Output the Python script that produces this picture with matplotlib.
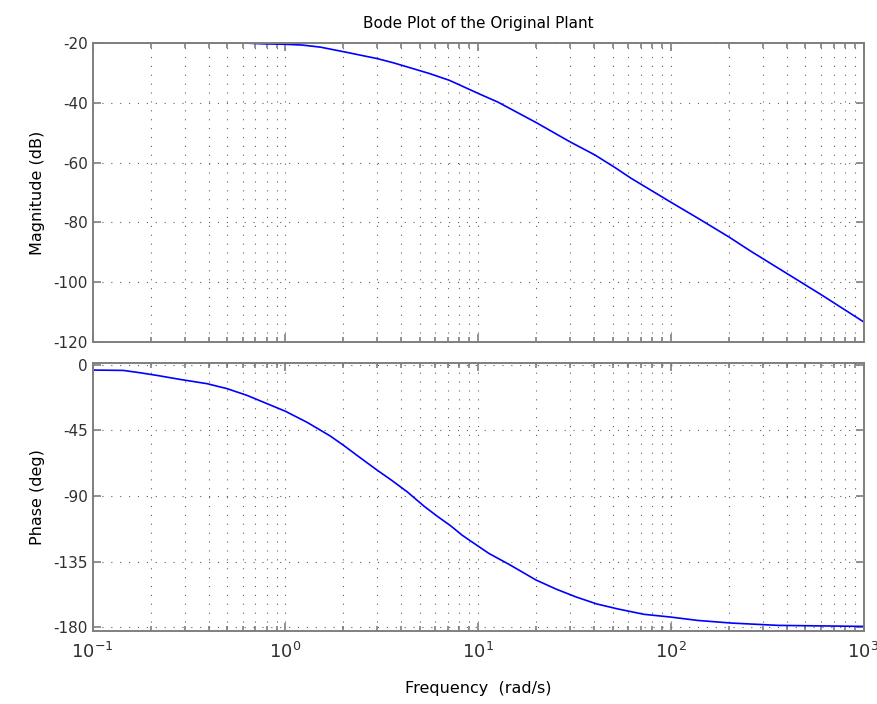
import numpy as np
import matplotlib.pyplot as plt
from matplotlib.ticker import LogLocator, NullFormatter

# values
mag_freq = [0.1, 0.3, 0.6, 0.774, 1.0, 1.22, 1.52, 2.03, 2.98, 3.62, 4.39, 5.58,
            7.10, 10.2, 12.7, 20.0, 30.1, 40.3, 51.2, 62.1, 100.5, 141, 202, 257,
            304, 406, 612, 1000]
mag_db = [-20.0, -20.0, -20.0, -20.3, -20.45, -20.7, -21.4, -23.0, -25.2, -26.6,
          -28.2, -30.2, -32.5, -37.1, -39.8, -46.6, -53.1, -57.4, -61.6, -65.2,
          -73.3, -78.9, -85.0, -89.4, -92.3, -97.3, -104.4, -113.2]

ph_freq = [0.1, 0.144, 0.176, 0.215, 0.285, 0.392, 0.498, 0.632, 0.803, 1.0, 1.30,
           1.71, 2.01, 2.36, 3.0, 3.52, 4.29, 5.24, 6.15, 7.21, 8.28, 10, 11.4,
           14.5, 20, 25.5, 32.4, 41.3, 52.6, 72.5, 100, 138, 206, 361, 1000]
ph_deg = [-3.65, -3.9, -5.5, -7.3, -10.1, -13.0, -16.4, -21.0, -26.7, -31.9,
          -39.6, -48.9, -55.4, -62.3, -72.4, -78.8, -87.2, -97.0, -104.0, -110.5,
          -117.0, -124.4, -129.5, -137.0, -147.7, -154.0, -159.4, -164.1, -167.4,
          -171.2, -173.1, -175.4, -177.2, -178.8, -179.5]

mag_ticks = [-20, -40, -60, -80, -100, -120]
ph_ticks = [0, -45, -90, -135, -180]

box = '#7f7f7f'
txt = '#303030'

plt.rcParams['font.family'] = 'DejaVu Sans'
plt.rcParams['axes.unicode_minus'] = False
fig = plt.figure(figsize=(8.78, 7.04), dpi=100)
ax1 = fig.add_axes([0.1055, 0.514, 0.878, 0.425])
ax2 = fig.add_axes([0.1055, 0.104, 0.878, 0.380])


def style(ax):
    ax.set_xscale('log')
    ax.set_xlim(0.1, 1000)
    ax.xaxis.set_minor_locator(LogLocator(base=10, subs=np.arange(2, 10)))
    ax.xaxis.set_minor_formatter(NullFormatter())
    for s in ax.spines.values():
        s.set_color(box)
        s.set_linewidth(1.4)
        s.set_zorder(3)
    ax.tick_params(which='both', direction='in', top=True, right=True,
                   color=box, labelcolor=txt, labelsize=11, width=1.2)
    ax.tick_params(which='major', length=6)
    ax.tick_params(which='minor', length=3.5)
    ax.grid(True, which='major', color='#606060', linestyle=(0, (1, 7)), linewidth=0.8)
    ax.grid(True, which='minor', axis='x', color='#606060', linestyle=(0, (1, 7)), linewidth=0.8)


style(ax1)
ax1.plot(mag_freq, mag_db, color='#0000ff', linewidth=1.2, zorder=2)
ax1.set_ylim(-120, -20)
ax1.set_yticks(mag_ticks)
ax1.tick_params(labelbottom=False)
ax1.set_ylabel('Magnitude (dB)', fontsize=11.5, labelpad=6)
ax1.set_title('Bode Plot of the Original Plant', fontsize=11, pad=11)

style(ax2)
ax2.plot(ph_freq, ph_deg, color='#0000ff', linewidth=1.2, zorder=2)
ax2.set_ylim(-182.5, 1)
ax2.set_yticks(ph_ticks)
ax2.tick_params(axis='x', labelsize=13, pad=8)
ax2.set_ylabel('Phase (deg)', fontsize=11.5, labelpad=6)
ax2.set_xlabel('Frequency  (rad/s)', fontsize=11.5, labelpad=14)

fig.savefig('out.png', dpi=100)
